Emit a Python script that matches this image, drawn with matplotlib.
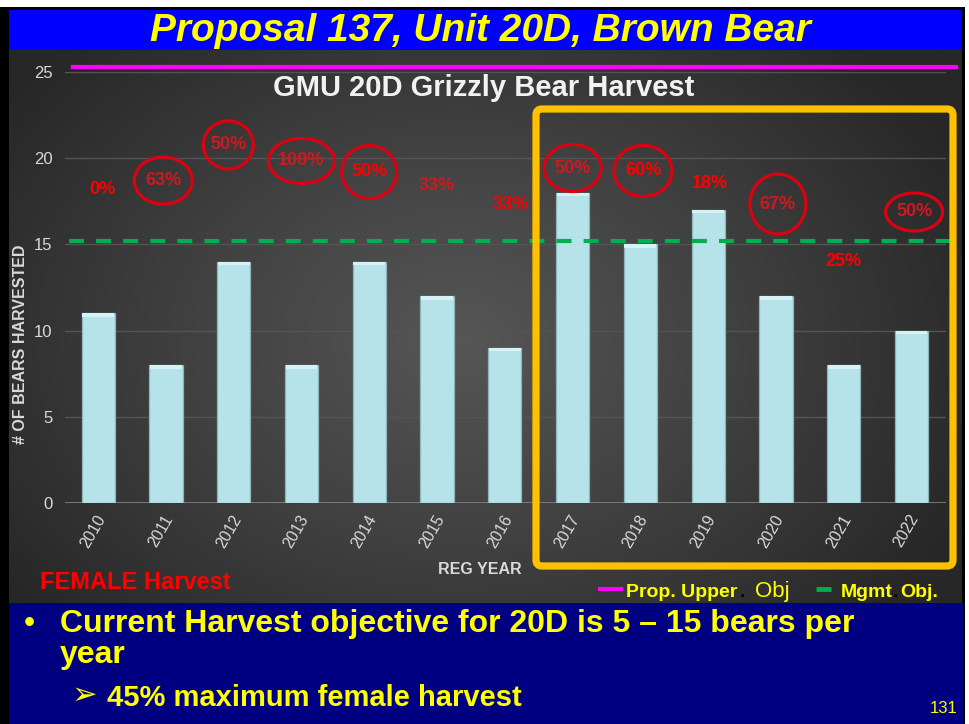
import numpy as np
import matplotlib
matplotlib.use("Agg")
import matplotlib.pyplot as plt
from matplotlib.patches import Rectangle, Ellipse, FancyBboxPatch
import matplotlib.transforms as mtransforms
from matplotlib.colors import LinearSegmentedColormap

# ---------------- data ----------------
years = ["2010", "2011", "2012", "2013", "2014", "2015", "2016",
         "2017", "2018", "2019", "2020", "2021", "2022"]
bears_harvested = [11, 8, 14, 8, 14, 12, 9, 18, 15, 17, 12, 8, 10]
female_pct = [0, 63, 50, 100, 50, 33, 33, 50, 60, 18, 67, 25, 50]
circled = [False, True, True, True, True, False, False, True, True, False, True, False, True]
prop_upper_obj = 25.3
mgmt_obj = 15.2

# ---------------- layout (label placement) ----------------
label_y = [18.2, 18.7, 20.77, 19.84, 19.2, 18.39, 17.29, 19.43, 19.26, 18.56, 17.34, 13.98, 16.88]
label_dx = [0.06, -0.04, -0.08, 0.0, 0.0, 0.0, 0.09, 0.0, 0.04, 0.03, 0.03, 0.0, 0.04]
ell_w_px = [0, 58, 50, 66, 55, 0, 0, 57, 58, 0, 56, 0, 57]
ell_h_px = [0, 47, 48, 45, 53, 0, 0, 47, 51, 0, 60, 0, 38]
dark_text = [False, True, True, True, False, True, False, True, False, False, True, False, True]

plt.rcParams['font.family'] = ['Liberation Sans', 'DejaVu Sans']

W, H = 969, 724
fig = plt.figure(figsize=(W / 100, H / 100), dpi=100)
fig.patch.set_facecolor('white')

# background (pixel coordinates)
bg = fig.add_axes([0, 0, 1, 1], zorder=0)
bg.set_xlim(0, W)
bg.set_ylim(H, 0)
bg.axis('off')
bg.add_patch(Rectangle((0, 7), 965, H - 7, color='black', lw=0))
bg.add_patch(Rectangle((9, 10), 953, 40, color='#0000ff', lw=0))
gx, gy = np.meshgrid(np.linspace(9, 962, 300), np.linspace(50, 603, 200))
r = np.sqrt(((gx - 460) / 560) ** 2 + ((gy - 340) / 420) ** 2)
r = np.clip(r, 0, 1)
cmap = LinearSegmentedColormap.from_list('bgc', ['#565656', '#404040', '#272727'])
bg.imshow(r, cmap=cmap, extent=(9, 962, 603, 50), aspect='auto', vmin=0, vmax=1,
          interpolation='bilinear', zorder=1)
bg.add_patch(Rectangle((9, 603), 954, H - 603, color='#000080', lw=0, zorder=2))
bg.set_xlim(0, W)
bg.set_ylim(H, 0)

# main chart
ax = fig.add_axes([65 / W, 1 - 503 / H, 881 / W, 431 / H], zorder=2)
ax.patch.set_alpha(0)
x = np.arange(len(years))
vals = np.array(bears_harvested, dtype=float)
ax.bar(x, vals, width=0.49, color='#b6e3e9', edgecolor='#8ab4b9', linewidth=0.9, zorder=3)
ax.bar(x, np.full(len(x), 0.2), bottom=vals - 0.2, width=0.47, color='#d6f2f5',
       linewidth=0, zorder=3.5)
ax.set_xlim(-0.49, 12.51)
ax.set_ylim(0, 25)
ax.set_yticks(range(0, 26, 5))
ax.grid(axis='y', color='#545454', lw=1)
ax.grid(axis='x', visible=False)
ax.set_axisbelow(True)
for s in ax.spines.values():
    s.set_visible(False)
ax.axhline(0, color='#8a8a8a', lw=1.8, zorder=2)
ax.tick_params(axis='y', length=0, colors='#d9d9d9', labelsize=12, pad=9)
ax.tick_params(axis='x', length=0, colors='#d9d9d9', labelsize=11.5, pad=6.5)
ax.set_xticks(x, years, rotation=60, ha='center')
off = mtransforms.ScaledTranslation(-5 / 100, 0, fig.dpi_scale_trans)
for lab in ax.get_xticklabels():
    lab.set_transform(lab.get_transform() + off)

ax.axhline(prop_upper_obj, xmin=(73 - 65) / 881, xmax=(956 - 65) / 881, color='#ff00ff',
           lw=3, clip_on=False, zorder=4)
ax.axhline(mgmt_obj, xmin=(69 - 65) / 881, xmax=(950 - 65) / 881, color='#00b050',
           lw=3, ls=(0, (3.6, 2.9)), clip_on=False, zorder=4)

px_x = 881 / 13.0
px_y = 431 / 25.0
for i, p in enumerate(female_pct):
    xx = i + label_dx[i]
    yy = label_y[i]
    col = '#cf1820' if dark_text[i] else '#ff0000'
    ax.text(xx, yy, f"{p}%", ha='center', va='center', fontsize=13, fontweight='bold',
            color=col, zorder=6, clip_on=False)
    if circled[i]:
        ax.add_patch(Ellipse((xx, yy), ell_w_px[i] / px_x, ell_h_px[i] / px_y, fill=False,
                             ec='#dd0010', lw=2.3, zorder=6, clip_on=False))

# overlay
ov = fig.add_axes([0, 0, 1, 1], zorder=5)
ov.set_xlim(0, W)
ov.set_ylim(H, 0)
ov.axis('off')
ov.patch.set_alpha(0)

ov.add_patch(FancyBboxPatch((536, 109), 953 - 536, 566 - 109,
                            boxstyle='round,pad=0,rounding_size=6', fill=False,
                            ec='#ffc000', lw=5.2))

ov.text(480, 41, 'Proposal 137, Unit 20D, Brown Bear', ha='center', va='baseline',
        fontsize=28, fontweight='bold', fontstyle='italic', color='#ffff00')
ov.text(484, 96, 'GMU 20D Grizzly Bear Harvest', ha='center', va='baseline',
        fontsize=21, fontweight='bold', color='#f2f2f2')
ov.text(21, 344, '# OF BEARS HARVESTED', rotation=90, ha='center', va='center',
        fontsize=11.5, fontweight='bold', color='#d9d9d9')
ov.text(480, 569, 'REG YEAR', ha='center', va='center', fontsize=11.5,
        fontweight='bold', color='#d9d9d9')
ov.text(40, 589, 'FEMALE Harvest', ha='left', va='baseline', fontsize=17,
        fontweight='bold', color='#ff0000')

# legend
ov.plot([598, 623], [589, 589], color='#ff00ff', lw=3, solid_capstyle='butt')
ov.text(626, 597, 'Prop. Upper', ha='left', va='baseline', fontsize=14,
        fontweight='bold', color='#ffff00')
ov.text(740, 597, '.', ha='left', va='baseline', fontsize=14, fontweight='bold', color='black')
ov.text(755, 597, 'Obj', ha='left', va='baseline', fontsize=16, color='#ffff00')
ov.plot([816, 831], [589, 589], color='#00b050', lw=3.5, solid_capstyle='butt')
ov.text(841, 597, 'Mgmt', ha='left', va='baseline', fontsize=14,
        fontweight='bold', color='#ffff00')
ov.text(893, 597, '.', ha='left', va='baseline', fontsize=14, fontweight='bold', color='black')
ov.text(900, 597, 'Obj.', ha='left', va='baseline', fontsize=14,
        fontweight='bold', color='#ffff00')

# bottom bullets
ov.text(24, 632, '\u2022', ha='left', va='baseline', fontsize=23, color='#ffff00')
ov.text(60, 632, 'Current Harvest objective for 20D is 5 \u2013 15 bears per', ha='left',
        va='baseline', fontsize=23, fontweight='bold', color='#ffff00')
ov.text(60, 663, 'year', ha='left', va='baseline', fontsize=23, fontweight='bold',
        color='#ffff00')
ov.text(72, 704, '\u27a2', ha='left', va='baseline', fontsize=22, color='#ffff00',
        family=['DejaVu Sans'])
ov.text(107, 706, '45% maximum female harvest', ha='left', va='baseline', fontsize=21,
        fontweight='bold', color='#ffff00')
ov.text(958, 713, '131', ha='right', va='baseline', fontsize=12, color='#ffff00')

fig.savefig('out.png', dpi=100, facecolor=fig.get_facecolor())
